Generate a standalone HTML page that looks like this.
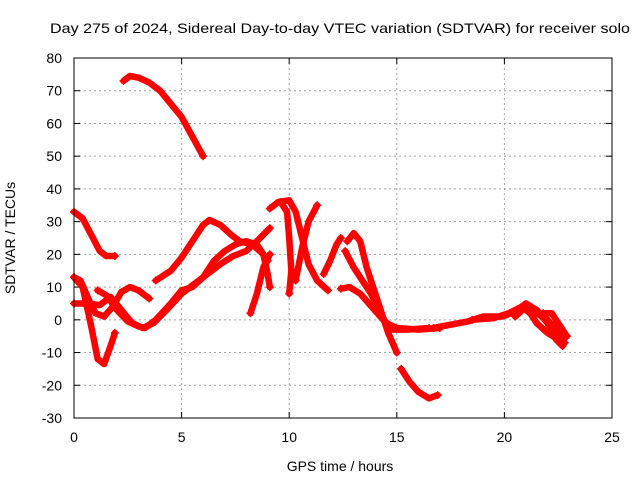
<!DOCTYPE html>
<html><head><meta charset="utf-8"><style>
body{margin:0;background:#fff;}
text{font-family:"Liberation Sans",sans-serif;font-size:14px;fill:#000;}
</style></head><body>
<svg id="chart" width="640" height="480" xmlns="http://www.w3.org/2000/svg">
<rect width="640" height="480" fill="#fff"/>
<text x="340" y="33" text-anchor="middle" textLength="580" lengthAdjust="spacingAndGlyphs">Day 275 of 2024, Sidereal Day-to-day VTEC variation (SDTVAR) for receiver solo</text>
<g id="grid"></g>
<g id="ticks"></g>
<g id="series"></g>
<rect x="74" y="58" width="538" height="360" fill="none" stroke="#000" stroke-width="1"/>
<text x="340" y="471" text-anchor="middle">GPS time / hours</text>
<text x="15" y="238" text-anchor="middle" transform="rotate(-90 15 238)">SDTVAR / TECUs</text>
</svg>
<script>
const xTicks=[0,5,10,15,20,25];
const yTicks=[-30,-20,-10,0,10,20,30,40,50,60,70,80];
const t1=[[2.3,73],[2.6,74.5],[3,74],[3.5,72.5],[4,70],[4.5,66],[5,62],[5.5,56],[6,50]];
const t2=[[0,33],[0.4,31],[0.8,26],[1.2,21],[1.5,19.5],[1.9,19.5]];
const t3=[[0,13],[0.4,10],[0.8,-2],[1.1,-12],[1.4,-13.5],[1.7,-8],[1.9,-4]];
const t4=[[0,13],[0.3,12],[0.7,6],[1,2],[1.4,1],[1.8,4],[2.2,8.5],[2.6,10],[3,9],[3.5,6.5]];
const t5=[[0,5],[0.6,5],[1.2,4.5],[1.7,7],[2.2,3],[2.7,-1],[3.2,-2.5],[3.7,-1],[4.3,3],[5,8],[5.6,11],[6.2,14],[6.8,17],[7.4,19.5],[8,21],[8.5,24],[9.1,28]];
const t6=[[1.1,9],[1.5,7.5],[2,3],[2.5,-0.5],[3,-2],[3.3,-2.5],[3.8,0],[4.5,5],[5,9],[5.5,10],[6,13],[6.5,18],[7,21],[7.5,23],[8,24],[8.5,23],[9,18]];
const t7=[[3.8,12],[4.5,15],[5,19],[5.5,24],[6,29],[6.3,30.5],[6.8,29],[7.3,26],[7.7,24],[8.3,23],[8.8,20],[9,14],[9.1,10]];
const t8=[[8.2,2],[8.5,8],[8.8,16],[9.1,20]];
const t9=[[9.1,34],[9.5,36],[10,36.5],[10.3,33],[10.6,25],[10.9,17],[11.3,12],[11.8,9]];
const t10=[[9.6,36],[9.9,33],[10,25],[10.1,15],[10,8]];
const t11=[[10.3,12],[10.6,22],[10.9,30],[11.3,35]];
const t12=[[11.6,14],[11.9,18],[12.2,23],[12.4,25]];
const t13=[[12.7,24],[13,26.5],[13.3,24],[13.6,16],[14,8],[14.3,2],[14.6,-4],[15,-10]];
const t14=[[12.6,21],[13,16],[13.4,12],[13.8,8],[14.1,4],[14.4,0],[14.8,-3],[15.5,-3],[16.5,-2.5]];
const t15=[[12.4,9.5],[12.8,10],[13.3,8],[13.7,5],[14.1,2],[14.5,-1],[15,-2.5],[16,-3],[17,-2.5]];
const t16=[[15.2,-15],[15.6,-19],[16,-22],[16.5,-24],[16.9,-23]];
const t17=[[16.7,-2.5],[17.5,-1.5],[18.3,-0.5],[19,1],[19.9,1],[20.5,2.5],[21,5],[21.5,3],[22,-1],[22.4,-6],[22.7,-8]];
const t18=[[18.5,0],[19.5,0.5],[20.2,2],[20.8,4],[21.2,2],[21.5,-1],[22,-4],[22.5,-6],[22.9,-5]];
const t19=[[20.5,1],[21,4],[21.5,2],[22,0],[22.4,-3],[22.8,-7]];
const t20=[[21.8,2],[22.2,2],[22.6,-2],[22.9,-5]];
const tracks=[t1,t2,t3,t4,t5,t6,t7,t8,t9,t10,t11,t12,t13,t14,t15,t16,t17,t18,t19,t20];

const X0=74,X1=612,Y0=418,Y1=58;
const xs=h=>X0+(h-0)/(25-0)*(X1-X0);
const ys=v=>Y0-(v+30)/(80+30)*(Y0-Y1);
const NS="http://www.w3.org/2000/svg";
const grid=document.getElementById('grid'),ticks=document.getElementById('ticks'),ser=document.getElementById('series');
function mk(tag,attrs,parent){const e=document.createElementNS(NS,tag);for(const k in attrs)e.setAttribute(k,attrs[k]);parent.appendChild(e);return e;}
xTicks.forEach(t=>{
  const x=xs(t);
  if(t>0&&t<25){const g=mk('line',{x1:x,x2:x,y1:Y1,y2:Y0,stroke:'#a0a0a0','stroke-dasharray':'2,3'},grid);
  
  }
  mk('line',{x1:x,x2:x,y1:Y0,y2:Y0-6,stroke:'#000'},ticks);
  mk('line',{x1:x,x2:x,y1:Y1,y2:Y1+6,stroke:'#000'},ticks);
  const l=mk('text',{x:x,y:Y0+24,'text-anchor':'middle'},ticks);l.textContent=t;
  
  
});
yTicks.forEach(t=>{
  const y=ys(t);
  if(t>-30&&t<80){const g=mk('line',{x1:X0,x2:X1,y1:y,y2:y,stroke:'#a0a0a0','stroke-dasharray':'2,3'},grid);
  
  }
  mk('line',{x1:X0,x2:X0+6,y1:y,y2:y,stroke:'#000'},ticks);
  mk('line',{x1:X1,x2:X1-6,y1:y,y2:y,stroke:'#000'},ticks);
  const l=mk('text',{x:X0-12,y:y+5,'text-anchor':'end'},ticks);l.textContent=t;
  
  
});
tracks.forEach((tr,i)=>{
  const p=mk('polyline',{points:tr.map(d=>xs(d[0])+','+ys(d[1])).join(' '),fill:'none',stroke:'#ff0000','stroke-width':6.5,'stroke-linejoin':'round','stroke-linecap':'round'},ser);
  
  
  [tr[0],tr[tr.length-1]].forEach(d=>{
    const m=mk('path',{d:`M${xs(d[0])-4},${ys(d[1])}h8M${xs(d[0])},${ys(d[1])-4}v8`,stroke:'#ff0000','stroke-width':1.5},ser);
    
    
  });
});
</script>
</body></html>
